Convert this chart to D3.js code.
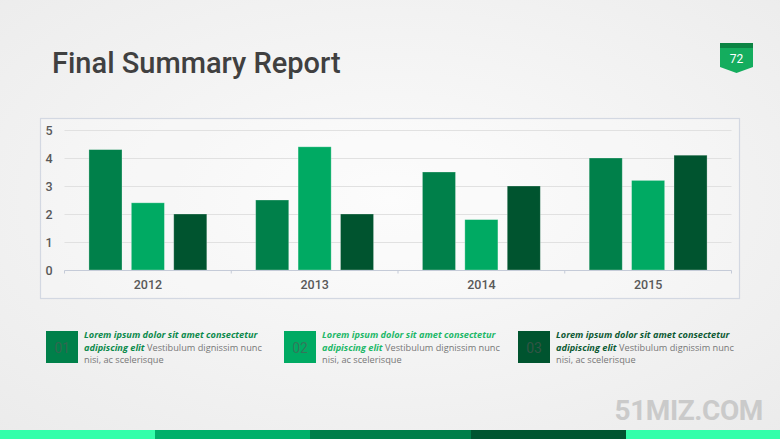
<!DOCTYPE html>
<html><head><meta charset="utf-8">
<script src="https://cdn.jsdelivr.net/npm/d3@7"></script>
<style>html,body{margin:0;padding:0;overflow:hidden;background:#f2f2f2}</style>
</head><body>
<script>
const years = ["2012", "2013", "2014", "2015"];
const seriesNames = ["Series 1", "Series 2", "Series 3"];
const series1 = [4.3, 2.5, 3.5, 4.0];
const series2 = [2.4, 4.4, 1.8, 3.2];
const series3 = [2.0, 2.0, 3.0, 4.1];
const yTicks = [0, 1, 2, 3, 4, 5];
const colors = ["#00804a", "#00aa63", "#00542f"];
const legendNums = ["01", "02", "03"];
const legendTitleColors = ["#0c8a4c", "#22b868", "#0d5a34"];
const stripeColors = ["#33ffaa", "#00b06a", "#007e4a", "#005530", "#33ffaa"];
const stripeEdges = [0, 155, 310, 471, 626, 780];

(function () {
const W = 780, H = 439;
const svg = d3.select("body").append("svg").attr("width", W).attr("height", H);
const defs = svg.append("defs");
const rg = defs.append("radialGradient").attr("id", "bg").attr("cx", "50%").attr("cy", "45%").attr("r", "75%");
rg.append("stop").attr("offset", "0%").attr("stop-color", "#fbfbfb");
rg.append("stop").attr("offset", "100%").attr("stop-color", "#ebebeb");
svg.append("rect").attr("width", W).attr("height", H).attr("fill", "url(#bg)");

// Title
svg.append("text").attr("x", 52).attr("y", 73).text("Final Summary Report")
  .attr("font-family", "Roboto").attr("font-weight", 500).attr("font-size", 29).attr("fill", "#404040");

// Badge
const bx = 720, bw = 33;
svg.append("path").attr("d", `M${bx},43 H${bx+bw} V67 L${bx+bw/2},73 L${bx},67 Z`).attr("fill", "#14ad5e");
svg.append("rect").attr("x", bx).attr("y", 43).attr("width", bw).attr("height", 5).attr("fill", "#0b8443");
svg.append("text").attr("x", bx + bw/2).attr("y", 63).attr("text-anchor", "middle").text("72")
  .attr("font-family", "Roboto").attr("font-size", 12).attr("fill", "#ffffff");

// Chart frame
svg.append("rect").attr("x", 40.5).attr("y", 118.5).attr("width", 699).attr("height", 180)
  .attr("fill", "rgba(255,255,255,0.25)").attr("stroke", "#d3d8e2").attr("stroke-width", 1.2);

const pLeft = 64.5, pRight = 731.5, pTop = 130, pBottom = 270;
const x0 = d3.scaleBand().domain(years).range([pLeft, pRight]).padding(0);
const groupW = x0.bandwidth() * 0.707;
const x1 = d3.scaleBand().domain(seriesNames)
  .range([(x0.bandwidth() - groupW) / 2, (x0.bandwidth() + groupW) / 2]).paddingInner(0.22);
const y = d3.scaleLinear().domain([0, 5]).range([pBottom, pTop]);

// gridlines
svg.append("g").selectAll("line").data(yTicks.filter(d => d > 0)).join("line")
  .attr("x1", pLeft).attr("x2", pRight).attr("y1", d => Math.round(y(d)) + 0.5).attr("y2", d => Math.round(y(d)) + 0.5)
  .attr("stroke", "#e1e1e1").attr("stroke-width", 1);

// y labels
const yAxis = svg.append("g").attr("transform", `translate(${pLeft - 12},0)`)
  .call(d3.axisLeft(y).tickValues(yTicks).tickFormat(d3.format("d")).tickSize(0).tickPadding(0));
yAxis.select(".domain").remove();
yAxis.selectAll("text").attr("font-family", "Roboto").attr("font-weight", 500).attr("font-size", 12.5).attr("fill", "#595959");

// bars
const seriesData = [series1, series2, series3];
const groups = svg.append("g").selectAll("g").data(years).join("g")
  .attr("transform", d => `translate(${x0(d)},0)`);
groups.selectAll("rect").data((d, i) => seriesData.map((s, k) => ({ k, v: s[i] }))).join("rect")
  .attr("x", d => x1(seriesNames[d.k])).attr("width", x1.bandwidth())
  .attr("y", d => y(d.v)).attr("height", d => y(0) - y(d.v))
  .attr("fill", d => colors[d.k]).attr("stroke", "rgba(255,255,255,0.35)").attr("stroke-width", 0.8);

// x axis
const xAxis = svg.append("g").attr("transform", `translate(0,${pBottom + 0.5})`)
  .call(d3.axisBottom(x0).tickSize(0).tickPadding(10));
xAxis.select(".domain").attr("stroke", "#c5cbd8").attr("d", `M${pLeft},3V0H${pRight}V3`);
xAxis.selectAll("text").attr("font-family", "Roboto").attr("font-weight", 500).attr("font-size", 12.5).attr("fill", "#595959");
svg.append("g").selectAll("line").data(years.slice(1)).join("line")
  .attr("x1", d => x0(d)).attr("x2", d => x0(d)).attr("y1", pBottom + 0.5).attr("y2", pBottom + 3.5)
  .attr("stroke", "#c5cbd8");

// legend
const legX = [46, 284, 518];
legendNums.forEach((n, i) => {
  const g = svg.append("g").attr("transform", `translate(${legX[i]},331)`);
  g.append("rect").attr("width", 32).attr("height", 32).attr("fill", colors[i]);
  g.append("text").attr("x", 16).attr("y", 21.5).attr("text-anchor", "middle").text(n)
    .attr("font-family", "Roboto").attr("font-size", 14).attr("fill", "#555555").attr("fill-opacity", 0.6);
  const t = g.append("g").attr("transform", "translate(38,0)").attr("font-family", "Open Sans").attr("font-size", 9.2);
  t.append("text").attr("y", 7).text("Lorem ipsum dolor sit amet consectetur")
    .attr("font-weight", 700).attr("font-style", "italic").attr("fill", legendTitleColors[i]);
  const l2 = t.append("text").attr("y", 19.5);
  l2.append("tspan").text("adipiscing elit").attr("font-weight", 700).attr("font-style", "italic").attr("fill", legendTitleColors[i]);
  l2.append("tspan").text(" Vestibulum dignissim nunc").attr("fill", "#777777");
  t.append("text").attr("y", 32).text("nisi, ac scelerisque").attr("fill", "#777777");
});

// watermark
svg.append("text").attr("x", 763).attr("y", 420).attr("text-anchor", "end").text("51MIZ.COM")
  .attr("font-family", "Roboto").attr("font-weight", 700).attr("font-size", 28).attr("fill", "#cacaca")
  .attr("letter-spacing", -0.4);

// bottom stripe
svg.append("g").selectAll("rect").data(stripeColors).join("rect")
  .attr("x", (d, i) => stripeEdges[i]).attr("width", (d, i) => stripeEdges[i + 1] - stripeEdges[i])
  .attr("y", 430).attr("height", 9).attr("fill", d => d);
})();
</script>
</body></html>
